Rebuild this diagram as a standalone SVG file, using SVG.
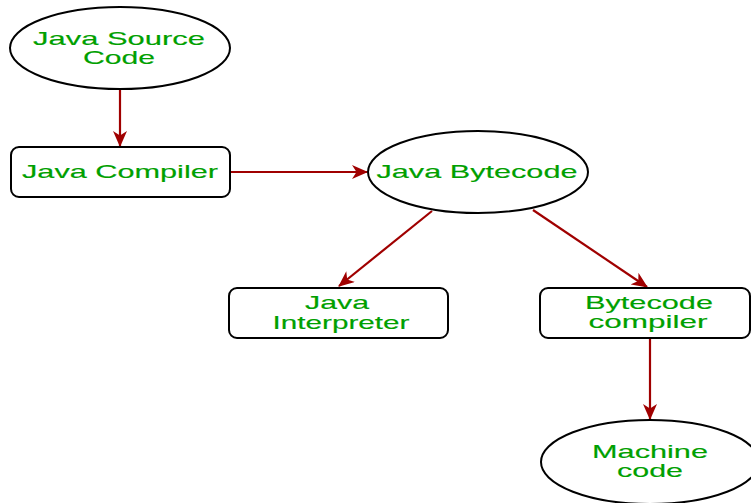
<svg xmlns="http://www.w3.org/2000/svg" width="751" height="503" viewBox="0 0 751 503">
  <style>
    .shape { fill: #ffffff; stroke: #000000; stroke-width: 2; }
    .label { font-family: "Liberation Sans", Arial, sans-serif; font-size: 19px; fill: #00a000; stroke: #00a000; stroke-width: 0.15; text-anchor: middle; }
    .edge { fill: none; stroke: #a00000; stroke-width: 2.2; }
  </style>
  <defs>
    <marker id="arrow" viewBox="0 0 16 14" refX="15" refY="7" markerWidth="16" markerHeight="14" markerUnits="userSpaceOnUse" orient="auto">
      <path d="M0,0 L16,7 L0,14 L4.5,7 Z" fill="#a00000"/>
    </marker>
  </defs>
  <rect width="751" height="503" fill="#ffffff"/>

  <g id="connectors">
    <line class="edge" x1="120" y1="89" x2="120" y2="146" marker-end="url(#arrow)"/>
    <line class="edge" x1="230" y1="172" x2="367" y2="172" marker-end="url(#arrow)"/>
    <line class="edge" x1="432" y1="211" x2="339" y2="286" marker-end="url(#arrow)"/>
    <line class="edge" x1="533" y1="210" x2="647" y2="287" marker-end="url(#arrow)"/>
    <line class="edge" x1="650" y1="338" x2="650" y2="419" marker-end="url(#arrow)"/>
  </g>

  <g id="java-source">
    <ellipse class="shape" cx="120" cy="48" rx="110" ry="41"/>
    <text class="label" x="119" y="45" textLength="172" lengthAdjust="spacingAndGlyphs">Java Source</text>
    <text class="label" x="119" y="64" textLength="72" lengthAdjust="spacingAndGlyphs">Code</text>
  </g>

  <g id="java-compiler">
    <rect class="shape" x="11" y="147" width="219" height="50" rx="8"/>
    <text class="label" x="120" y="178" textLength="196" lengthAdjust="spacingAndGlyphs">Java Compiler</text>
  </g>

  <g id="java-bytecode">
    <ellipse class="shape" cx="478" cy="172" rx="110" ry="41"/>
    <text class="label" x="477" y="178" textLength="201" lengthAdjust="spacingAndGlyphs">Java Bytecode</text>
  </g>

  <g id="java-interpreter">
    <rect class="shape" x="229" y="288" width="219" height="50" rx="8"/>
    <text class="label" x="337" y="309" textLength="64" lengthAdjust="spacingAndGlyphs">Java</text>
    <text class="label" x="341" y="329" textLength="137" lengthAdjust="spacingAndGlyphs">Interpreter</text>
  </g>

  <g id="bytecode-compiler">
    <rect class="shape" x="540" y="288" width="210" height="50" rx="8"/>
    <text class="label" x="649" y="309" textLength="128" lengthAdjust="spacingAndGlyphs">Bytecode</text>
    <text class="label" x="648" y="328" textLength="119" lengthAdjust="spacingAndGlyphs">compiler</text>
  </g>

  <g id="machine-code">
    <ellipse class="shape" cx="650" cy="462" rx="109" ry="42"/>
    <text class="label" x="650" y="458" textLength="116" lengthAdjust="spacingAndGlyphs">Machine</text>
    <text class="label" x="650" y="477" textLength="66" lengthAdjust="spacingAndGlyphs">code</text>
  </g>
</svg>
